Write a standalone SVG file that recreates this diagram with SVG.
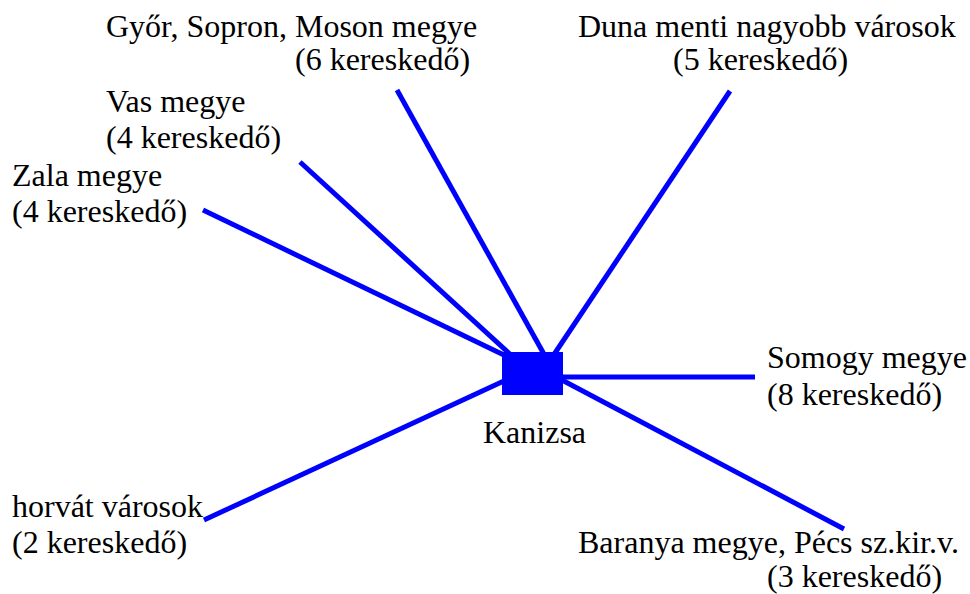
<svg xmlns="http://www.w3.org/2000/svg" width="970" height="594" viewBox="0 0 970 594">
<style>
text{font-family:'Liberation Serif','DejaVu Serif',serif;font-size:32px;fill:#000}
.c{stroke:#0000ff;stroke-width:5;fill:none}
</style>
<rect width="970" height="594" fill="#fff"/>
<g id="connectors">
<line class="c" x1="397" y1="90" x2="545" y2="356"/>
<line class="c" x1="730" y1="91" x2="553" y2="356"/>
<line class="c" x1="300" y1="162" x2="512" y2="356"/>
<line class="c" x1="203" y1="210" x2="506" y2="356"/>
<line class="c" x1="560" y1="377" x2="755" y2="377"/>
<line class="c" x1="560" y1="379" x2="844" y2="529"/>
<line class="c" x1="204" y1="520" x2="506" y2="380"/>
</g>
<g id="kanizsa">
<rect x="502" y="352" width="61" height="43" fill="#0000ff"/>
<text x="483" y="443" font-family="Liberation Serif, serif">Kanizsa</text>
</g>
<g id="gyor" font-family="Liberation Serif, serif">
<text x="106" y="37">Győr, Sopron, Moson megye</text>
<text x="295" y="70">(6 kereskedő)</text>
</g>
<g id="duna">
<text x="578" y="37">Duna menti nagyobb városok</text>
<text x="673" y="70">(5 kereskedő)</text>
</g>
<g id="vas">
<text x="106" y="112">Vas megye</text>
<text x="106" y="148">(4 kereskedő)</text>
</g>
<g id="zala">
<text x="12" y="186">Zala megye</text>
<text x="12" y="222">(4 kereskedő)</text>
</g>
<g id="somogy">
<text x="767" y="368">Somogy megye</text>
<text x="767" y="405">(8 kereskedő)</text>
</g>
<g id="horvat">
<text x="12" y="517">horvát városok</text>
<text x="12" y="553">(2 kereskedő)</text>
</g>
<g id="baranya">
<text x="578" y="553">Baranya megye, Pécs sz.kir.v.</text>
<text x="767" y="587">(3 kereskedő)</text>
</g>
</svg>
